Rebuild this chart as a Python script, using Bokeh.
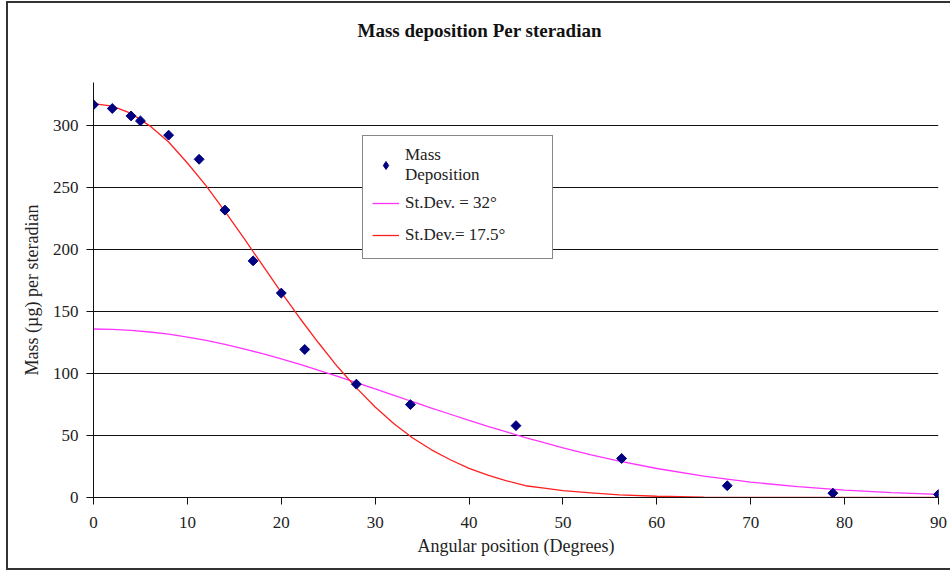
import math
from bokeh.plotting import figure
from bokeh.models import (Range1d, Legend, LegendItem, FixedTicker, ColumnDataSource,
                          InlineStyleSheet, Title)
from bokeh.embed import file_html
from bokeh.resources import INLINE

# measured points
angles = [0, 2, 4, 5, 8, 11.25, 14, 17, 20, 22.5, 28, 33.75, 45, 56.25, 67.5, 78.75, 90]
mass = [317, 314, 308, 304, 292.5, 273, 232, 191, 165, 119.5, 91.5, 75, 58, 31.5, 9.5, 3.5, 2.5]

# fitted curves
curve_x = [0, 2, 4, 6, 8, 10, 12, 14, 16, 18, 20, 22, 24, 26, 28, 30, 32, 34, 36, 38,
           40, 42, 44, 46, 48, 50, 53, 56, 60, 65, 70, 75, 80, 85, 90]
sd32 = [136, 135.7, 134.9, 133.6, 131.8, 129.5, 126.8, 123.6, 120, 116.1, 111.9, 107.4,
        102.6, 97.8, 92.8, 87.6, 82.5, 77.3, 72.2, 67.2, 62.3, 57.5, 52.9, 48.4, 44.2,
        40.1, 34.5, 29.4, 23.4, 17.3, 12.4, 8.7, 6.0, 4.0, 2.6]
sd175 = [318, 316, 310, 300, 287, 270, 251.5, 231, 209.5, 187.5, 165.5, 144.5, 124.5,
         105.5, 88.5, 73, 59.5, 48, 38.5, 30.5, 23.5, 18, 13.5, 9.5, 7.5, 5.5, 3.8, 2.2,
         1, 0.3, 0.1, 0, 0, 0, 0]

x_ticks = [0, 10, 20, 30, 40, 50, 60, 70, 80, 90]
y_ticks = [0, 50, 100, 150, 200, 250, 300]

title_text = "Mass deposition Per steradian"
x_label = "Angular position (Degrees)"
y_label = "Mass (µg) per steradian"
labels = ["Mass\nDeposition", "St.Dev. = 32°", "St.Dev.= 17.5°"]

FONT = "Liberation Serif"

frame_css = InlineStyleSheet(css="""
:host { position: relative; }
:host::after {
  content: "";
  position: absolute;
  left: 6px; top: 1px; bottom: 1px; right: 0px;
  border: 2px solid #333333;
  border-right: none;
  pointer-events: none;
  z-index: 10;
}
""")

p = figure(width=950, height=571, output_backend="svg", toolbar_location=None,
           x_range=Range1d(0, 90), y_range=Range1d(0, 335),
           min_border_left=93, min_border_right=12, min_border_top=82, min_border_bottom=74)
p.stylesheets = [frame_css]
p.outline_line_color = None
p.background_fill_color = "white"
p.border_fill_color = None
p.title = None

# spacer between the frame and the title (pushes the title upwards)
p.add_layout(Title(text=" ", text_font_size="10px", standoff=24), "above")
p.add_layout(Title(text=title_text, align="left", offset=264, standoff=10,
                   text_font=FONT, text_font_size="19px", text_font_style="bold",
                   text_color="#111111"), "above")

src_pts = ColumnDataSource(dict(x=angles, y=mass))
src_cur = ColumnDataSource(dict(x=curve_x, a=sd32, b=sd175))

r_mag = p.line("x", "a", source=src_cur, line_color="#FF33FF", line_width=1.3)
r_red = p.line("x", "b", source=src_cur, line_color="#FF2020", line_width=1.3)
# diamond renderer used as the legend key; it sits fully under the rotated squares
r_key = p.scatter("x", "y", source=src_pts, marker="diamond", size=8,
                  fill_color="#000080", line_color="#000080")
r_pts = p.scatter("x", "y", source=src_pts, marker="square", size=7, angle=math.pi / 4,
                  fill_color="#000080", line_color="#000080")

p.xgrid.visible = False
p.ygrid.grid_line_color = "#111111"
p.ygrid.grid_line_width = 1
p.ygrid.ticker = FixedTicker(ticks=y_ticks)

for ax in (p.xaxis[0], p.yaxis[0]):
    ax.axis_line_color = "#111111"
    ax.major_tick_line_color = "#111111"
    ax.major_tick_out = 7
    ax.major_tick_in = 0
    ax.minor_tick_line_color = None
    ax.major_label_text_font = FONT
    ax.major_label_text_font_size = "17px"
    ax.major_label_text_color = "#222222"
    ax.axis_label_text_font = FONT
    ax.axis_label_text_font_size = "18px"
    ax.axis_label_text_font_style = "normal"
    ax.axis_label_text_color = "#222222"

p.xaxis.ticker = FixedTicker(ticks=x_ticks)
p.yaxis.ticker = FixedTicker(ticks=y_ticks)
p.xaxis.axis_label = x_label
p.yaxis.axis_label = y_label
p.xaxis.major_label_standoff = 12
p.yaxis.major_label_standoff = 8
p.xaxis.axis_label_standoff = 5
p.yaxis.axis_label_standoff = 8

legend = Legend(items=[LegendItem(label=labels[0], renderers=[r_key]),
                       LegendItem(label=labels[1], renderers=[r_mag]),
                       LegendItem(label=labels[2], renderers=[r_red])],
                location=(269, 238))
legend.label_text_font = FONT
legend.label_text_font_size = "17px"
legend.label_text_color = "#222222"
legend.border_line_color = "#111111"
legend.border_line_width = 1
legend.background_fill_color = "white"
legend.background_fill_alpha = 1
legend.padding = 9
legend.spacing = 4
legend.glyph_width = 27
legend.label_standoff = 6
legend.label_width = 138
legend.label_height = 28
legend.margin = 0
legend.label_text_line_height = 1.0
p.add_layout(legend, "center")

open("out.html", "w").write(file_html(p, INLINE))
